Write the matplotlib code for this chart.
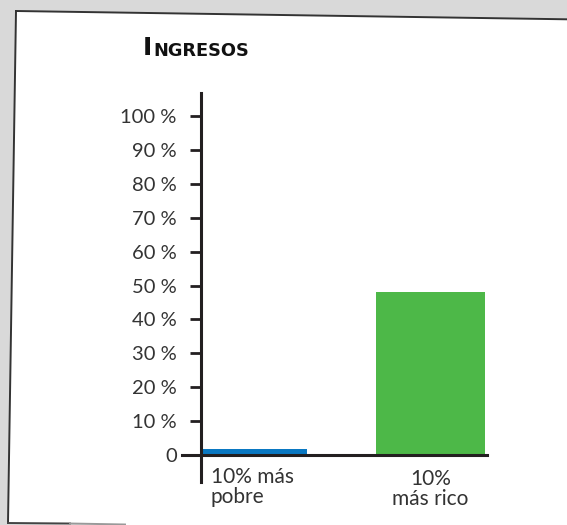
import matplotlib.pyplot as plt
from matplotlib.patches import Polygon

categories = ['10% más\npobre', '10%\nmás rico']
values = [1.8, 48]
colors = ['#0a78c2', '#4db848']
yticks = [0, 10, 20, 30, 40, 50, 60, 70, 80, 90, 100]
ylabels = ['0'] + ['%d %%' % t for t in yticks[1:]]

W, H = 567, 525
fig = plt.figure(figsize=(W / 100, H / 100), dpi=100)
fig.patch.set_facecolor('#d9d9d9')

# white card, slightly tilted
bg = fig.add_axes([0, 0, 1, 1])
bg.set_xlim(0, W)
bg.set_ylim(H, 0)
bg.axis('off')
bg.add_patch(Polygon([(16, 11), (580, 19.5), (580, 535), (8, 523)],
                     closed=True, facecolor='white', edgecolor='none'))
bg.plot([16, 580], [11, 19.5], color='#333333', lw=1.4)
bg.plot([16, 8], [11, 523], color='#333333', lw=1.4)
bg.plot([8, 70], [523, 523.5], color='#444444', lw=1.4)
bg.plot([70, 125], [523.5, 524.5], color='#999999', lw=1.4)

text_col = '#231f20'
fam = ['Lato', 'DejaVu Sans']

ax = fig.add_axes([201 / W, 1 - 482 / H, (487 - 201) / W, (482 - 93) / H])
ax.patch.set_visible(False)
x = [0, 1]
ax.bar(x, values, width=0.61, color=colors, zorder=2)
ax.set_xlim(-0.295, 1.319)
ax.set_ylim(-7.96, 106.8)

for s in ['top', 'right', 'bottom']:
    ax.spines[s].set_visible(False)
ax.spines['left'].set_linewidth(2.2)
ax.spines['left'].set_color(text_col)
ax.axhline(0, xmin=-0.068, xmax=1.0, color=text_col, lw=2.2, clip_on=False, zorder=3)

ax.set_yticks(yticks)
ax.set_yticklabels(ylabels, family=fam, fontsize=14.5, color='#333333')
ax.tick_params(axis='y', direction='out', length=8, width=2, color=text_col, pad=9.5)
ax.set_xticks([])

ax.text(-0.24, -3.6, categories[0], ha='left', va='top', family=fam,
        fontsize=15, color='#333333', linespacing=1.0)
ax.text(1, -4.2, categories[1], ha='center', va='top', family=fam,
        fontsize=15, color='#333333', linespacing=1.0)

# small-caps style title
t1 = fig.text(143 / W, 1 - 55 / H, 'I', family='DejaVu Sans', fontsize=18,
              fontweight='bold', color='#111111', ha='left', va='baseline')
ax.annotate('NGRESOS', xy=(1, 0), xycoords=t1, xytext=(1.0, 0),
            textcoords='offset points', family='DejaVu Sans', fontsize=12.8,
            fontweight='bold', color='#111111', ha='left', va='bottom')

fig.savefig('out.png', dpi=100, facecolor=fig.get_facecolor())
